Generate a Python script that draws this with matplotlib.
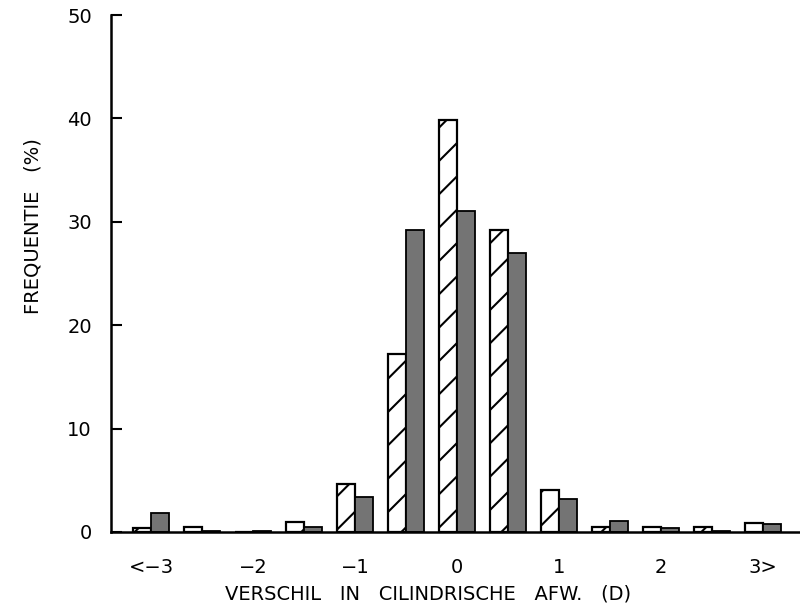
import numpy as np
import matplotlib
matplotlib.use("Agg")
import matplotlib.pyplot as plt

# verschil in cilindrische afwijking (D), klassen van 0.5 D
klassen = [-3.0, -2.5, -2.0, -1.5, -1.0, -0.5, 0.0, 0.5, 1.0, 1.5, 2.0, 2.5, 3.0]
freq_gearceerd = [0.4, 0.5, 0.0, 1.0, 4.6, 17.2, 39.8, 29.2, 4.1, 0.45, 0.45, 0.45, 0.9]
freq_donker = [1.8, 0.1, 0.1, 0.5, 3.4, 29.2, 31.0, 27.0, 3.2, 1.1, 0.35, 0.1, 0.8]

xtick_pos = [-3, -2, -1, 0, 1, 2, 3]
xtick_labels = ["<\u22123", "\u22122", "\u22121", "0", "1", "2", "3>"]
ytick_pos = [0, 10, 20, 30, 40, 50]

plt.rcParams['font.family'] = ['DejaVu Sans']
plt.rcParams['hatch.linewidth'] = 1.5

fig = plt.figure(figsize=(8, 6.16), dpi=100)
ax = fig.add_axes([0.139, 0.1364, 0.861, 0.8392])

x = np.array(klassen)
w = 0.175
ax.bar(x - w / 2, freq_gearceerd, width=w, facecolor="white", edgecolor="black",
       linewidth=1.6, hatch="/")
ax.bar(x + w / 2, freq_donker, width=w, facecolor="#747474", edgecolor="black",
       linewidth=1.3)

ax.set_xlim(-3.39, 3.36)
ax.set_ylim(0, 50)

for s in ["top", "right"]:
    ax.spines[s].set_visible(False)
for s in ["left", "bottom"]:
    ax.spines[s].set_linewidth(1.8)

ax.set_yticks(ytick_pos)
ax.set_yticklabels([str(v) for v in ytick_pos])
ax.tick_params(axis="y", direction="in", length=8, width=1.5, pad=14, labelsize=14)
ax.set_xticks(xtick_pos)
ax.set_xticklabels(xtick_labels)
ax.tick_params(axis="x", length=0, pad=19, labelsize=14)

fig.text(428 / 800, 1 - 594 / 616, "VERSCHIL   IN   CILINDRISCHE   AFW.   (D)",
         ha="center", va="center", fontsize=14)
fig.text(33 / 800, 1 - 226 / 616, "FREQUENTIE   (%)", rotation=90,
         ha="center", va="center", fontsize=14)

fig.savefig("out.png", dpi=100)
